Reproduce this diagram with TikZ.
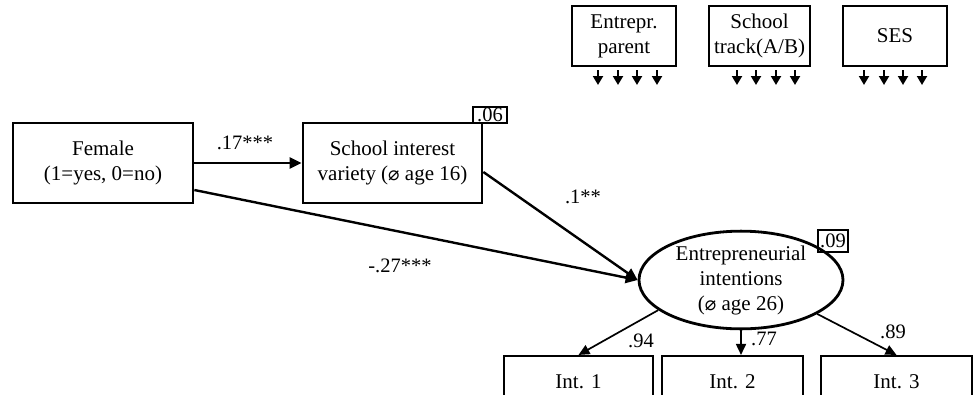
\documentclass[tikz,border=0pt]{standalone}
\usepackage{fontspec}
\setmainfont{Liberation Serif}
\newfontfamily\djv{DejaVu Sans}
\usetikzlibrary{arrows.meta,shapes.geometric,calc}
\newcommand{\diam}{{\djv\fontsize{19}{19}\selectfont ⌀}}
\tikzset{
  box/.style={draw, line width=2.7pt, rectangle, align=center, font=\fontsize{21}{25}\selectfont, inner sep=0pt},
  smallbox/.style={draw, line width=1.1pt, rectangle, font=\fontsize{20.5}{20}\selectfont, inner sep=0pt},
  arr/.style={line width=2.4pt, -{Triangle[length=12pt,width=11pt]}},
  thinarr/.style={line width=1.7pt, -{Triangle[length=11pt,width=10pt]}},
  tinyarr/.style={line width=2pt, -{Triangle[length=9pt,width=10pt]}},
  lbl/.style={font=\fontsize{20.5}{21}\selectfont, inner sep=0pt}
}
\begin{document}
\begin{tikzpicture}[x=1pt,y=-1pt]
\clip (0,0) rectangle (974,394);
\fill[white] (0,0) rectangle (974,394);
% top control boxes
\node[box, minimum width=104pt, minimum height=60pt] (ep) at (624,36) {Entrepr.\\parent};
\node[box, minimum width=101pt, minimum height=60pt] (st) at (759.5,36) {School\\track(A/B)};
\node[box, minimum width=104pt, minimum height=60pt] (ses) at (895,36) {SES};
\foreach \x in {598,618,637,657}{
  \coordinate (a\x) at (\x,70); \coordinate (b\x) at (\x,85);
  \draw[tinyarr] (a\x) -- (b\x);}
\foreach \x in {737,756,776,795}{
  \coordinate (a\x) at (\x,70); \coordinate (b\x) at (\x,85);
  \draw[tinyarr] (a\x) -- (b\x);}
\foreach \x in {864,884,903,922}{
  \coordinate (a\x) at (\x,70); \coordinate (b\x) at (\x,85);
  \draw[tinyarr] (a\x) -- (b\x);}
% main nodes
\node[box, minimum width=180pt, minimum height=80pt] (fem) at (103,163) {Female\\(1=yes, 0=no)};
\node[box, minimum width=179pt, minimum height=80pt] (sch) at (392.5,163) {School interest\\variety (\diam\ age 16)};
\node[smallbox, minimum width=34pt, minimum height=16pt] (r06) at (490,115) {.06};
\node[box, ellipse, line width=2.8pt, minimum width=204pt, minimum height=94pt] (ell) at (741,280) {Entrepreneurial\\intentions\\(\diam\ age 26)};
\node[smallbox, minimum width=30pt, minimum height=22pt] (r09) at (833,241) {.09};
\node[box, line width=2.1pt, minimum width=149pt, minimum height=52pt] (i1) at (578.5,382) {Int. 1};
\node[box, line width=2.1pt, minimum width=141pt, minimum height=52pt] (i2) at (732.5,382) {Int. 2};
\node[box, line width=2.1pt, minimum width=151pt, minimum height=52pt] (i3) at (896.5,382) {Int. 3};
% paths
\draw[arr] (fem.east) -- (sch.west);
\draw[arr] ($(sch.east)+(0,9)$) -- (ell.west);
\draw[arr] ($(fem.east)+(0,27)$) -- (ell.west);
\draw[thinarr] (ell.200) -- (i1.north);
\draw[thinarr] (ell.south) -- (ell.south |- i2.north);
\draw[thinarr] (ell.336) -- (i3.north);
% labels
\node[lbl] (l1) at (245,143) {.17***};
\node[lbl] (l2) at (583,197) {.1**};
\node[lbl] (l3) at (400,266) {-.27***};
\node[lbl] (l4) at (641,341) {.94};
\node[lbl] (l5) at (764,339) {.77};
\node[lbl] (l6) at (893,332) {.89};
\end{tikzpicture}
\end{document}
